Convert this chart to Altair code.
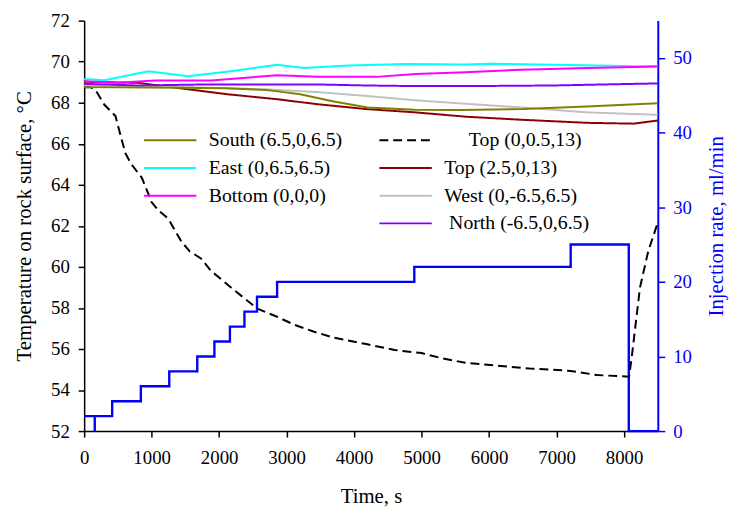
import altair as alt
import pandas as pd

# ---------------- data ----------------
series_a = ["South (6.5,0,6.5)", "East (0,6.5,6.5)", "Bottom (0,0,0)"]
colors_a = ["#808000", "#00FFFF", "#FF00FF"]
series_b = ["\u200b\u00a0\u00a0\u00a0\u00a0\u00a0Top (0,0.5,13)", "Top (2.5,0,13)",
            "West (0,-6.5,6.5)", "\u200b\u00a0North (-6.5,0,6.5)"]
colors_b = ["#000000", "#8B0000", "#C0C0C0", "#8000FF"]
dashes_b = [[9, 5], [1, 0], [1, 0], [1, 0]]

south_t = [0, 1400, 2100, 2700, 2900, 3200, 3700, 4200, 4900, 5600, 6500, 7450, 8500]
south_v = [68.76, 68.73, 68.70, 68.62, 68.54, 68.41, 68.06, 67.77, 67.66, 67.64, 67.69, 67.82, 67.97]

east_t = [0, 300, 950, 1540, 2200, 2860, 3250, 3930, 4770, 5650, 6000, 6960, 8190, 8500]
east_v = [69.16, 69.10, 69.53, 69.29, 69.55, 69.85, 69.69, 69.81, 69.89, 69.86, 69.90, 69.85, 69.78, 69.78]

bottom_t = [0, 500, 1050, 1880, 2860, 3450, 4330, 4910, 5650, 6480, 7450, 8500]
bottom_v = [69.05, 68.97, 69.08, 69.08, 69.34, 69.26, 69.26, 69.40, 69.48, 69.61, 69.69, 69.77]

topd_t = [0, 100, 171, 300, 464, 540, 611, 700, 855, 1001, 1100, 1246, 1442, 1564, 1735,
          1882, 2175, 2400, 2566, 2859, 3100, 3397, 3700, 4179, 4600, 5000, 5300, 5645,
          6280, 6600, 6916, 7209, 7600, 8074, 8110, 8236, 8358, 8504]
topd_v = [68.75, 68.75, 68.60, 67.90, 67.35, 66.40, 65.54, 65.00, 64.34, 63.15, 62.75, 62.35,
          61.23, 60.76, 60.40, 59.80, 59.00, 58.40, 57.97, 57.57, 57.20, 56.85, 56.55, 56.24,
          55.95, 55.80, 55.55, 55.33, 55.14, 55.05, 55.00, 54.93, 54.73, 54.65, 55.50, 59.00,
          60.76, 62.20]

top_t = [0, 800, 1500, 2130, 2860, 3450, 4180, 4910, 5650, 6480, 7450, 8140, 8500]
top_v = [69.02, 68.97, 68.67, 68.41, 68.17, 67.93, 67.69, 67.53, 67.32, 67.17, 67.02, 66.98, 67.13]

west_t = [0, 1500, 2710, 3450, 4180, 4910, 5650, 6480, 7450, 8500]
west_v = [68.85, 68.76, 68.65, 68.52, 68.33, 68.12, 67.95, 67.77, 67.53, 67.41]

north_t = [0, 800, 1800, 2860, 3450, 4180, 4910, 5650, 6960, 7700, 8500]
north_v = [68.92, 68.84, 68.89, 68.89, 68.89, 68.84, 68.81, 68.81, 68.84, 68.89, 68.94]

rate_t = [0, 157, 157, 157, 415, 415, 840, 840, 1261, 1261, 1676, 1676, 1930, 1930,
          2160, 2160, 2375, 2375, 2561, 2561, 2859, 2859, 4892, 4892, 7209, 7209, 8070, 8070, 8500]
rate_v = [2, 2, 0, 2, 2, 4, 4, 6, 6, 8, 8, 10, 10, 12, 12, 14, 14, 16, 16, 18, 18, 20,
          20, 22, 22, 25, 25, 0, 0]

x_ticks = [0, 1000, 2000, 3000, 4000, 5000, 6000, 7000, 8000]
y_ticks = [52, 54, 56, 58, 60, 62, 64, 66, 68, 70, 72]
r_ticks = [0, 10, 20, 30, 40, 50]

# ---------------- tables ----------------
def long(name, ts, vs):
    return pd.DataFrame({"series": name, "t": ts, "v": vs, "i": range(len(ts))})

df_a = pd.concat([long(series_a[0], south_t, south_v),
                  long(series_a[1], east_t, east_v),
                  long(series_a[2], bottom_t, bottom_v)])
df_b = pd.concat([long(series_b[0], topd_t, topd_v),
                  long(series_b[1], top_t, top_v),
                  long(series_b[2], west_t, west_v),
                  long(series_b[3], north_t, north_v)])
df_r = pd.DataFrame({"t": rate_t, "r": rate_v, "i": range(len(rate_t))})

FONT = "Liberation Serif"

x_enc = alt.X("t:Q", scale=alt.Scale(domain=[0, 8500], nice=False, zero=False),
              axis=alt.Axis(values=x_ticks, format="d", title="Time, s", grid=False, tickSize=6,
                            labelPadding=12, titlePadding=18, labelFontSize=19,
                            titleFontSize=21, titleFontWeight="normal",
                            labelFont=FONT, titleFont=FONT,
                            domainColor="black", tickColor="black",
                            labelColor="black", titleColor="black", labelFlush=False))
y_enc = alt.Y("v:Q", scale=alt.Scale(domain=[52, 72], nice=False, zero=False),
              axis=alt.Axis(values=y_ticks, title="Temperature on rock surface, \u00b0C",
                            grid=False, tickSize=6, labelPadding=9, titlePadding=16,
                            labelFontSize=19, titleFontSize=21, titleFontWeight="normal",
                            labelFont=FONT, titleFont=FONT,
                            domainColor="black", tickColor="black", labelColor="black",
                            titleColor="black", labelFlush=False))

legend_common = dict(orient="none", title=None, symbolType="M-6,0H6", symbolSize=78,
                     symbolStrokeWidth=2, labelFontSize=20, labelFont=FONT,
                     labelColor="black", padding=0, rowPadding=8, labelOffset=29,
                     labelLimit=400, symbolFillColor="transparent")

layer_a = alt.Chart(df_a).mark_line(strokeWidth=2).encode(
    x=x_enc, y=y_enc,
    color=alt.Color("series:N", scale=alt.Scale(domain=series_a, range=colors_a),
                    legend=alt.Legend(legendX=77, legendY=111, **legend_common)),
    order="i:Q",
    detail="series:N",
)

layer_b = alt.Chart(df_b).mark_line(strokeWidth=2).encode(
    x=x_enc, y=y_enc,
    color=alt.Color("series:N", scale=alt.Scale(domain=series_b, range=colors_b),
                    legend=alt.Legend(legendX=315, legendY=111, **legend_common)),
    strokeDash=alt.StrokeDash("series:N", scale=alt.Scale(domain=series_b, range=dashes_b),
                              legend=alt.Legend(legendX=315, legendY=111, **legend_common)),
    order="i:Q",
)

temp = alt.layer(layer_b, layer_a).resolve_scale(color="independent", strokeDash="independent")

rate = alt.Chart(df_r).mark_line(strokeWidth=2.4, color="#0000FF").encode(
    x=alt.X("t:Q", scale=alt.Scale(domain=[0, 8500], nice=False, zero=False)),
    y=alt.Y("r:Q", scale=alt.Scale(domain=[0, 55], nice=False),
            axis=alt.Axis(orient="right", values=r_ticks, title="Injection rate, ml/min",
                          grid=False, tickSize=7, labelPadding=8, titlePadding=35,
                          labelFontSize=19, titleFontSize=21, titleFontWeight="normal",
                          labelFont=FONT, titleFont=FONT,
                          domainColor="#0000FF", tickColor="#0000FF", labelColor="#0000FF",
                          titleColor="#0000FF", titleAngle=270, labelFlush=False,
                          domainWidth=2)),
    order="i:Q",
)

chart = alt.layer(rate, temp).resolve_scale(y="independent").properties(
    width=580, height=415,
    autosize=alt.AutoSizeParams(type="none"),
    padding={"left": 77, "top": 10, "right": 73, "bottom": 75},
).configure(font=FONT).configure_view(stroke=None).configure_axis(
    domainWidth=1.5, tickWidth=1.5)

chart.save("out.html", embed_options={"renderer": "svg", "actions": False})
